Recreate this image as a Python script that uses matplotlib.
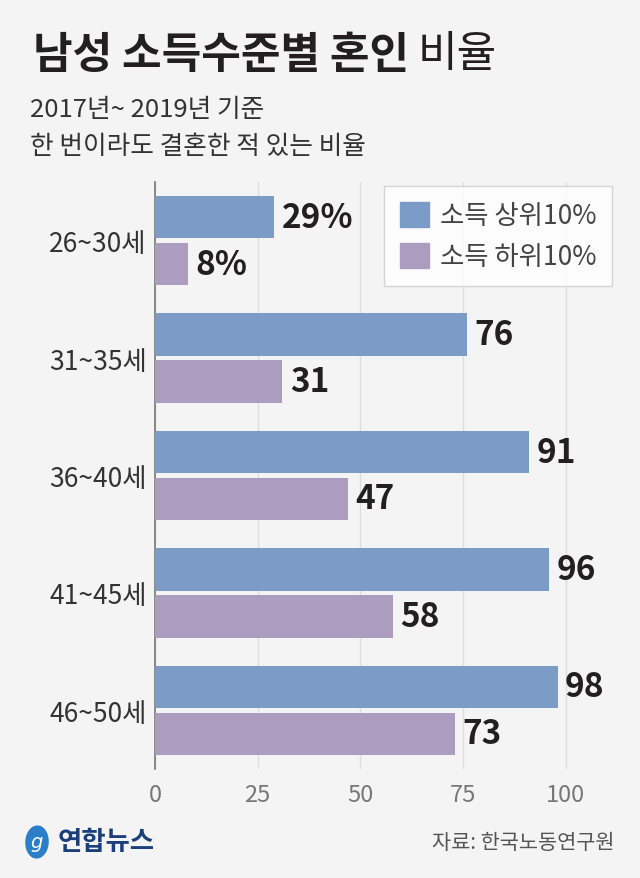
import numpy as np
import matplotlib
matplotlib.use("Agg")
import matplotlib.pyplot as plt
from matplotlib.patches import Patch, Ellipse

plt.rcParams["font.family"] = ["Noto Sans CJK KR", "DejaVu Sans"]

categories = ["26~30세", "31~35세", "36~40세", "41~45세", "46~50세"]
top10 = [29, 76, 91, 96, 98]
bottom10 = [8, 31, 47, 58, 73]
top_labels = ["29%", "76", "91", "96", "98"]
bottom_labels = ["8%", "31", "47", "58", "73"]
xticks = [0, 25, 50, 75, 100]

bg = "#f4f4f4"
blue = "#7a9cc6"
purple = "#ab9cc0"
text_dark = "#231f20"

fig = plt.figure(figsize=(6.4, 8.79), dpi=100, facecolor=bg)
ax = fig.add_axes([155 / 640, 1 - 770 / 879, 460 / 640, 587 / 879], facecolor=bg)

y = np.arange(len(categories))
h = 0.36
ax.barh(y - 0.2, top10, height=h, color=blue, zorder=3)
ax.barh(y + 0.2, bottom10, height=h, color=purple, zorder=3)

for i in range(len(categories)):
    ax.text(top10[i] + 1.8, y[i] - 0.2, top_labels[i], va="center", ha="left",
            fontsize=24, fontweight="bold", color=text_dark, zorder=4)
    ax.text(bottom10[i] + 1.8, y[i] + 0.2, bottom_labels[i], va="center", ha="left",
            fontsize=24, fontweight="bold", color=text_dark, zorder=4)

ax.set_xlim(0, 112)
ax.set_ylim(4.5, -0.5)
ax.set_yticks(y)
ax.set_yticklabels(categories, fontsize=19, color="#333333", fontweight="light")
ax.set_xticks(xticks)
ax.set_xticklabels([str(t) for t in xticks], fontsize=17, color="#777777", fontweight="light")
ax.tick_params(axis="y", length=0, pad=6)
ax.tick_params(axis="x", length=0, pad=10)
ax.grid(axis="x", color="#dddddd", linewidth=1, zorder=0)
for s in ["top", "right", "bottom"]:
    ax.spines[s].set_visible(False)
ax.spines["left"].set_color("#777777")
ax.spines["left"].set_linewidth(1.2)

handles = [Patch(facecolor=blue, edgecolor=blue), Patch(facecolor=purple, edgecolor=purple)]
leg = ax.legend(handles, ["소득 상위10%", "소득 하위10%"], loc="upper right",
                bbox_to_anchor=(1 - 3 / 460, 1 - 4 / 587), fontsize=19, frameon=True,
                fancybox=False, edgecolor="#cccccc", facecolor="white",
                handlelength=1.1, handleheight=1.1, borderpad=0.6, labelspacing=0.5,
                handletextpad=0.4, borderaxespad=0.0)
leg.get_frame().set_linewidth(1)
for t in leg.get_texts():
    t.set_color("#444444")
    t.set_fontweight("light")

# title and subtitle
title = fig.text(33 / 640, 1 - 55 / 879, "남성 소득수준별 혼인", fontsize=31, fontweight="bold",
                 color=text_dark, va="center", ha="left")
fig.canvas.draw()
bb = title.get_window_extent()
fig.text((bb.x1 + 8) / 640, 1 - 55 / 879, "비율", fontsize=31, fontweight="light",
         color=text_dark, va="center", ha="left")
fig.text(30 / 640, 1 - 110 / 879, "2017년~ 2019년 기준", fontsize=18.5,
         color="#333333", va="center", ha="left", fontweight="light")
fig.text(30 / 640, 1 - 147 / 879, "한 번이라도 결혼한 적 있는 비율", fontsize=18.5,
         color="#333333", va="center", ha="left", fontweight="light")

# footer
fig.patches.append(Ellipse((37 / 640, 1 - 843 / 879), 22 / 640, 32 / 879, angle=-20,
                           transform=fig.transFigure, color="#2a7fc8", zorder=2))
fig.text(37 / 640, 1 - 843 / 879, "g", fontsize=14, fontstyle="italic", color="white",
         va="center", ha="center", family="DejaVu Sans")
fig.text(58 / 640, 1 - 843 / 879, "연합뉴스", fontsize=19, fontweight="bold",
         color="#1b3f7a", va="center", ha="left")
fig.text(615 / 640, 1 - 843 / 879, "자료: 한국노동연구원", fontsize=15,
         color="#555555", va="center", ha="right", fontweight="light")

fig.savefig("out.png", dpi=100, facecolor=bg)
